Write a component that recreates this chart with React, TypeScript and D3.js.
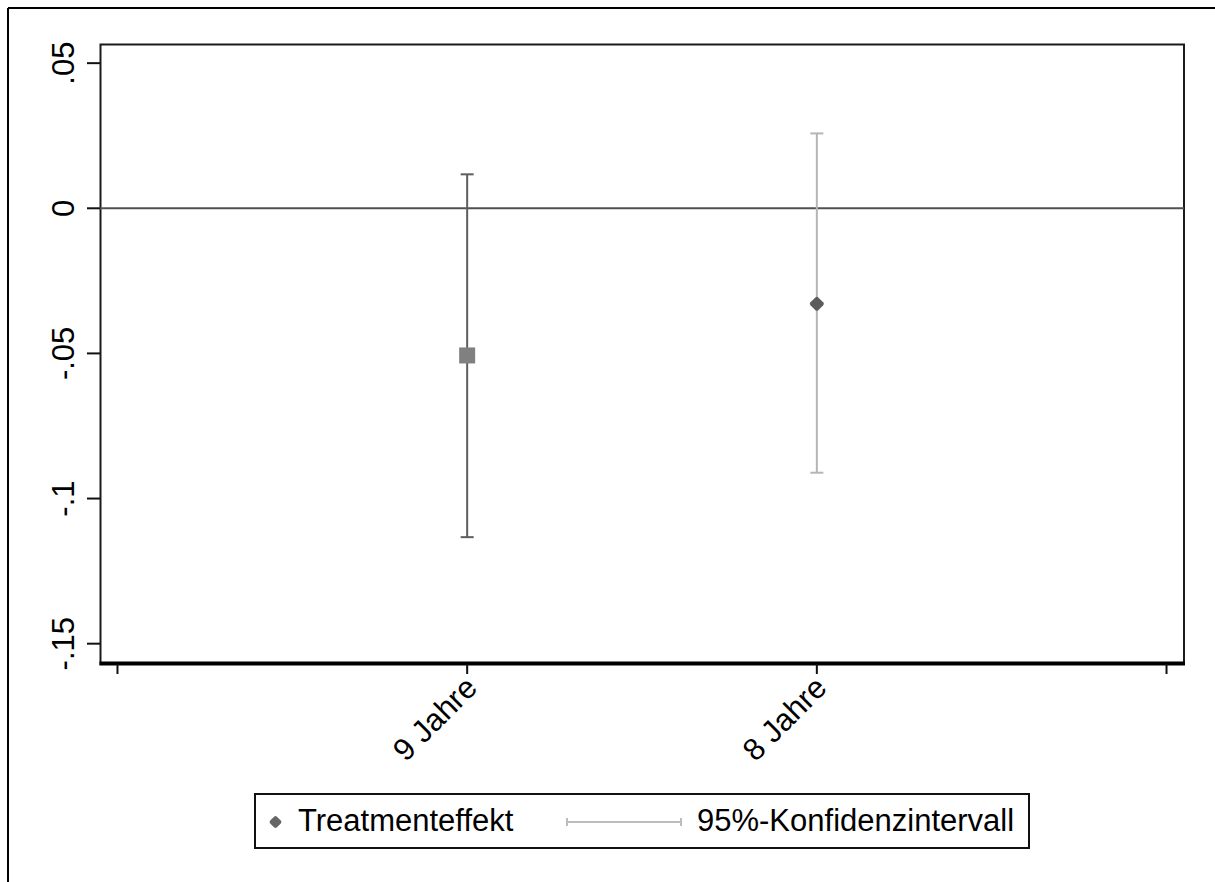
import React from "react";
import * as d3 from "d3";

// Estimates and 95% confidence bounds per school-duration group
const categories = ["9 Jahre", "8 Jahre"];
const categoryPos = [1, 2];
const xTickValues = [0, 1, 2, 3];
const effects = [-0.0507, -0.0329];
const ciLower = [-0.1133, -0.0911];
const ciUpper = [0.0117, 0.0258];

const yTickValues = [0.05, 0, -0.05, -0.1, -0.15];
const yTickLabels = [".05", "0", "-.05", "-.1", "-.15"];

const legendLabels = ["Treatmenteffekt", "95%-Konfidenzintervall"];

const markerShapes = ["square", "diamond"];
const markerColors = ["#808080", "#5c5c5c"];
const ciColors = ["#5e5e5e", "#b5b5b5"];

const W = 1215;
const H = 882;
const plot = { left: 100, right: 1184, top: 44, bottom: 664 };
const FONT = "'Liberation Sans', Arial, sans-serif";

function Diamond({ cx, cy, size, fill }: { cx: number; cy: number; size: number; fill: string }) {
  return (
    <rect
      x={-size / 2}
      y={-size / 2}
      width={size}
      height={size}
      rx={2}
      fill={fill}
      transform={`translate(${cx},${cy}) rotate(45)`}
    />
  );
}

export default function App() {
  const x = d3.scaleLinear().domain([-0.05, 3.05]).range([plot.left, plot.right]);
  const y = d3.scaleLinear().domain([-0.157, 0.0566]).range([plot.bottom, plot.top]);
  const capHalf = 6.5;

  return (
    <svg
      width={W}
      height={H}
      style={{ position: "absolute", left: 0, top: 0, display: "block", background: "#fff" }}
    >
      {/* outer graph frame */}
      <line x1={8} y1={8} x2={W} y2={8} stroke="#000" strokeWidth={2} />
      <line x1={8} y1={8} x2={8} y2={H} stroke="#000" strokeWidth={2} />

      {/* plot region */}
      <rect
        x={plot.left + 0.5}
        y={plot.top + 0.5}
        width={plot.right - plot.left - 0.5}
        height={plot.bottom - plot.top - 0.5}
        fill="#fff"
        stroke="#1a1a1a"
        strokeWidth={2}
      />

      {/* reference line at zero */}
      <line x1={plot.left} x2={plot.right} y1={y(0)} y2={y(0)} stroke="#505050" strokeWidth={2} />

      {/* y axis ticks and labels */}
      {yTickValues.map((v, i) => (
        <g key={`yt${i}`}>
          <line x1={87} x2={plot.left} y1={y(v)} y2={y(v)} stroke="#111" strokeWidth={2} />
          <text
            transform={`translate(74,${y(v)}) rotate(-90)`}
            textAnchor="middle"
            fontFamily={FONT}
            fontSize={31}
            fill="#000"
          >
            {yTickLabels[i]}
          </text>
        </g>
      ))}

      {/* x axis line, ticks and labels */}
      <line x1={plot.left - 0.5} x2={plot.right + 1} y1={663.5} y2={663.5} stroke="#000" strokeWidth={4} />
      {xTickValues.map((v) => (
        <line key={`xt${v}`} x1={x(v)} x2={x(v)} y1={664} y2={674} stroke="#111" strokeWidth={2} />
      ))}
      {categories.map((c, i) => (
        <text
          key={`xl${i}`}
          transform={`translate(${x(categoryPos[i]) + 4},682) rotate(-45)`}
          textAnchor="end"
          dy="0.35em"
          fontFamily={FONT}
          fontSize={31}
          fill="#000"
        >
          {c}
        </text>
      ))}

      {/* confidence intervals */}
      {categories.map((c, i) => {
        const cx = x(categoryPos[i]);
        return (
          <g key={`ci${i}`} stroke={ciColors[i]} strokeWidth={2}>
            <line x1={cx} x2={cx} y1={y(ciUpper[i])} y2={y(ciLower[i])} />
            <line x1={cx - capHalf} x2={cx + capHalf} y1={y(ciUpper[i])} y2={y(ciUpper[i])} />
            <line x1={cx - capHalf} x2={cx + capHalf} y1={y(ciLower[i])} y2={y(ciLower[i])} />
          </g>
        );
      })}

      {/* point estimates */}
      {categories.map((c, i) => {
        const cx = x(categoryPos[i]);
        const cy = y(effects[i]);
        return markerShapes[i] === "square" ? (
          <rect key={`pt${i}`} x={cx - 8} y={cy - 8} width={16} height={16} fill={markerColors[i]} />
        ) : (
          <Diamond key={`pt${i}`} cx={cx} cy={cy} size={11} fill={markerColors[i]} />
        );
      })}

      {/* legend */}
      <rect x={255} y={794} width={774} height={54} fill="#fff" stroke="#111" strokeWidth={2} />
      <Diamond cx={275.5} cy={822} size={9.5} fill="#666" />
      <text x={298} y={831} fontFamily={FONT} fontSize={31} fill="#000">
        {legendLabels[0]}
      </text>
      <g stroke="#bdbdbd" strokeWidth={2}>
        <line x1={567} x2={681} y1={822} y2={822} />
        <line x1={567} x2={567} y1={818} y2={826} />
        <line x1={681} x2={681} y1={818} y2={826} />
      </g>
      <text x={697} y={831} fontFamily={FONT} fontSize={31} fill="#000">
        {legendLabels[1]}
      </text>
    </svg>
  );
}
